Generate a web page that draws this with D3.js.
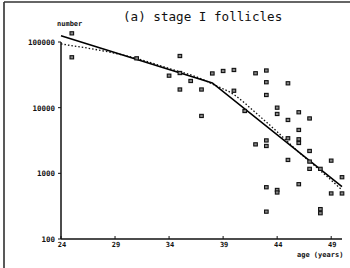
<!DOCTYPE html>
<html>
<head>
<meta charset="utf-8">
<script src="https://cdn.jsdelivr.net/npm/d3@7"></script>
<style>
  body { margin: 0; background: #fff; }
  svg text { font-family: "DejaVu Sans Mono", monospace; fill: #111; }
</style>
</head>
<body>
<div id="chart"></div>
<script>
// follicle counts
var ages = [25,25,31,34,35,35,35,36,37,37,38,39,40,40,41,42,42,43,43,43,43,43,43,43,
            44,44,44,44,45,45,45,45,46,46,46,46,46,47,47,47,47,48,48,48,49,49,50,50];
var counts = [135500,58500,56400,30700,61200,33700,18900,25500,18900,7480,33200,36200,37500,18100,8900,33400,2760,
              36800,24400,15600,3170,2610,614,261,
              10000,8020,558,511,23500,6500,3420,1600,8510,4580,3300,2900,683,6850,2190,1510,1170,
              1170,285,247,1560,494,873,494];

// fitted lines
var solidAges = [24,38,50];
var solidVals = [124800,23800,628];
var dashAges = [24,31,34,37,38,40,42,44,46,48,50];
var dashVals = [93300,56100,39500,27400,22900,15800,8400,4300,2100,1100,558];

var xTicks = [24,29,34,39,44,49];
var yTicks = [100,1000,10000,100000];

var width = 350, height = 268;

var svg = d3.select("#chart").append("svg")
  .attr("width", width)
  .attr("height", height);

// scan frame
svg.append("line").attr("x1",4).attr("x2",4).attr("y1",2).attr("y2",268)
  .attr("stroke","#222").attr("stroke-width",1.5);
svg.append("line").attr("x1",4).attr("x2",350).attr("y1",2).attr("y2",2)
  .attr("stroke","#333").attr("stroke-width",1.5);

var x = d3.scaleLinear().domain([24,50]).range([61,342]);
var y = d3.scaleLog().domain([100,100000]).range([239,42]);

// axes
var xAxis = svg.append("g").attr("transform","translate(0,239)");
xAxis.append("line").attr("x1",x(24)).attr("x2",x(50))
  .attr("stroke","#111").attr("stroke-width",1.5);
xAxis.selectAll(".tk").data(xTicks).enter().append("line")
  .attr("x1",function(d){return x(d);}).attr("x2",function(d){return x(d);})
  .attr("y1",0).attr("y2",-3).attr("stroke","#111");
xAxis.selectAll(".lb").data(xTicks).enter().append("text")
  .attr("x",function(d){return x(d)+1;})
  .attr("y",8)
  .attr("text-anchor","middle")
  .style("font-size","7px").style("font-weight","bold")
  .text(function(d){return d;});

var yAxis = svg.append("g").attr("transform","translate(61,0)");
yAxis.append("line").attr("y1",y(100)).attr("y2",y(100000))
  .attr("stroke","#111").attr("stroke-width",1.5);
yAxis.selectAll(".tk").data(yTicks).enter().append("line")
  .attr("x1",0).attr("x2",-3)
  .attr("y1",function(d){return y(d);}).attr("y2",function(d){return y(d);})
  .attr("stroke","#111");
yAxis.selectAll(".lb").data(yTicks).enter().append("text")
  .attr("x",-6)
  .attr("y",function(d){return y(d)+3;})
  .attr("text-anchor","end")
  .style("font-size","7.5px").style("font-weight","bold")
  .text(function(d){return d;});

svg.append("text").attr("x",57).attr("y",26)
  .style("font-size","7px").style("font-weight","bold")
  .text("number");
svg.append("text").attr("x",297).attr("y",257)
  .style("font-size","7px").style("font-weight","bold")
  .text("age (years)");
svg.append("text").attr("x",123).attr("y",21)
  .style("font-size","12.6px")
  .text("(a) stage I follicles");

// lines
var line = d3.line()
  .x(function(d){return x(d[0]);})
  .y(function(d){return y(d[1]);});

svg.append("path")
  .datum(d3.zip(dashAges, dashVals))
  .attr("d", line.curve(d3.curveMonotoneX))
  .attr("fill","none").attr("stroke","#111")
  .attr("stroke-width",1.3).attr("stroke-dasharray","1.5,2");

svg.append("path")
  .datum(d3.zip(solidAges, solidVals))
  .attr("d", d3.line().x(function(d){return x(d[0]);}).y(function(d){return y(d[1]);}))
  .attr("fill","none").attr("stroke","#000").attr("stroke-width",1.6);

// points
svg.selectAll(".pt").data(d3.zip(ages, counts)).enter().append("rect")
  .attr("x",function(d){return x(d[0])-1.8;})
  .attr("y",function(d){return y(d[1])-1.6;})
  .attr("width",3.6).attr("height",3.2)
  .attr("fill","#888").attr("stroke","#111").attr("stroke-width",1.1);
</script>
</body>
</html>
